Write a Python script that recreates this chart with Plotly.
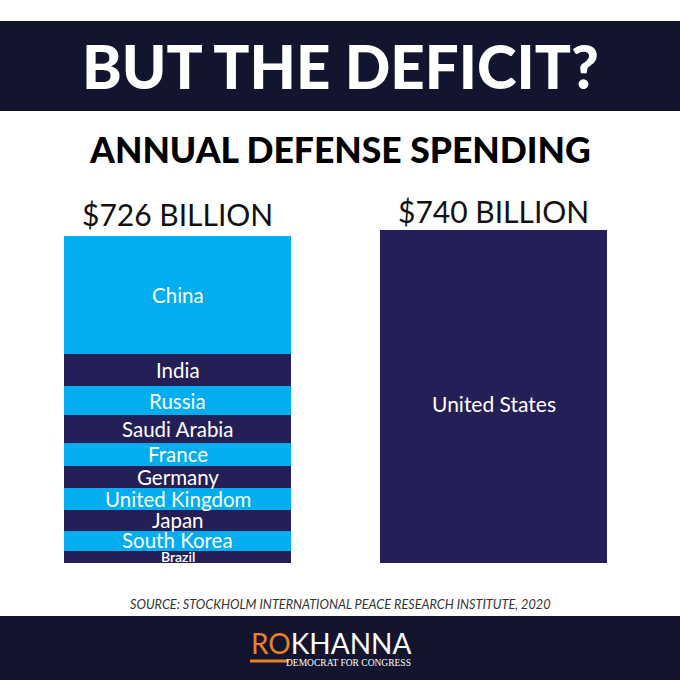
import plotly.graph_objects as go

# ---- data ----
countries = ["China", "India", "Russia", "Saudi Arabia", "France", "Germany",
             "United Kingdom", "Japan", "South Korea", "Brazil"]
spending = [261.0, 71.1, 65.1, 61.9, 50.1, 49.3, 48.7, 47.6, 43.9, 26.9]  # $ billion
us_label = "United States"
us_spending = 740.0
groups = ["Others", "United States"]

LIGHT = "#00AEEF"
DARK = "#241F57"
BAND = "#13152F"
ORANGE = "#E8822A"

fig = go.Figure()

# stacked bar: draw from bottom (Brazil) to top (China)
order = list(range(len(countries)))[::-1]
for i in order:
    fig.add_trace(go.Bar(
        x=[groups[0]], y=[spending[i]], name=countries[i],
        marker=dict(color=LIGHT if i % 2 == 0 else DARK, line=dict(width=0)),
        width=0.718, hoverinfo="name+y", showlegend=False,
    ))
fig.add_trace(go.Bar(
    x=[groups[1]], y=[us_spending], name=us_label,
    marker=dict(color=DARK, line=dict(width=0)),
    width=0.718, hoverinfo="name+y", showlegend=False,
))

annotations = []
label_font = dict(family="Lato, sans-serif", size=20.5, color="white")
cum = 0.0
mids = {}
for i in order:
    mids[i] = cum + spending[i] / 2
    cum += spending[i]
for i in range(len(countries)):
    f = dict(label_font)
    ys = 0
    if countries[i] == "Brazil":
        f["size"] = 14
        f["weight"] = 600
        ys = 0
    if countries[i] == "South Korea":
        ys = 1
    annotations.append(dict(x=0, y=mids[i], xref="x", yref="y", text=countries[i],
                            showarrow=False, font=f, yanchor="middle", yshift=ys))
annotations.append(dict(x=1, y=us_spending / 2, xref="x", yref="y", text=us_label,
                        showarrow=False, font=dict(label_font, size=21), yshift=-7))

total_other = sum(spending)
annotations.append(dict(x=0, y=total_other, xref="x", yref="y",
                        text=f"${round(total_other)} BILLION", showarrow=False,
                        yanchor="bottom", yshift=2,
                        font=dict(family="Lato, sans-serif", size=30, color="#111111")))
annotations.append(dict(x=1, y=us_spending, xref="x", yref="y",
                        text=f"${round(us_spending)} BILLION", showarrow=False,
                        yanchor="bottom", yshift=-1,
                        font=dict(family="Lato, sans-serif", size=30, color="#111111")))

# titles
annotations.append(dict(x=0.5, y=1 - 66 / 680, xref="paper", yref="paper",
                        text="BUT THE DEFICIT?", showarrow=False, yanchor="middle",
                        font=dict(family="Lato, sans-serif", size=60, color="white", weight=900)))
annotations.append(dict(x=0.5, y=1 - 149 / 680, xref="paper", yref="paper",
                        text="ANNUAL DEFENSE SPENDING", showarrow=False, yanchor="middle",
                        font=dict(family="Lato, sans-serif", size=35.5, color="black", weight=900)))
annotations.append(dict(x=0.5, y=1 - 604 / 680, xref="paper", yref="paper",
                        text="<i>SOURCE: STOCKHOLM INTERNATIONAL PEACE RESEARCH INSTITUTE, 2020</i>",
                        showarrow=False, yanchor="middle",
                        font=dict(family="Lato, sans-serif", size=12.7, color="#333333")))
# logo
annotations.append(dict(x=249 / 680, y=1 - 643 / 680, xref="paper", yref="paper",
                        text=f"<span style='color:{ORANGE}'>RO</span>KHANNA",
                        showarrow=False, xanchor="left", yanchor="middle",
                        font=dict(family="Lato, sans-serif", size=28, color="white")))
annotations.append(dict(x=413 / 680, y=1 - 663 / 680, xref="paper", yref="paper",
                        text="DEMOCRAT FOR CONGRESS", showarrow=False,
                        xanchor="right", yanchor="middle",
                        font=dict(family="Liberation Serif, serif", size=9.5, color="white")))

shapes = [
    dict(type="rect", xref="paper", yref="paper", x0=0, x1=1,
         y0=1 - 111 / 680, y1=1 - 21 / 680, fillcolor=BAND, line=dict(width=0), layer="below"),
    dict(type="rect", xref="paper", yref="paper", x0=0, x1=1,
         y0=0, y1=1 - 616 / 680, fillcolor=BAND, line=dict(width=0), layer="below"),
    dict(type="rect", xref="paper", yref="paper", x0=250 / 680, x1=289 / 680,
         y0=1 - 662.5 / 680, y1=1 - 659.5 / 680, fillcolor=ORANGE, line=dict(width=0)),
]

# scale: 0.45 px per $B, zero at y=563px
px_per = 0.45
r0 = -(680 - 563) / px_per
r1 = r0 + 680 / px_per
x0 = (0 - 177.5) / 316
x1 = (680 - 177.5) / 316

fig.update_layout(
    width=680, height=680, margin=dict(l=0, r=0, t=0, b=0),
    paper_bgcolor="white", plot_bgcolor="white",
    barmode="stack", bargap=0,
    xaxis=dict(visible=False, range=[x0, x1], type="category", fixedrange=True),
    yaxis=dict(visible=False, range=[r0, r1], fixedrange=True),
    annotations=annotations, shapes=shapes, showlegend=False,
)

fig.write_html("out.html", config={"displayModeBar": False},
               post_script="document.body.style.margin='0';document.body.style.overflow='hidden';")
